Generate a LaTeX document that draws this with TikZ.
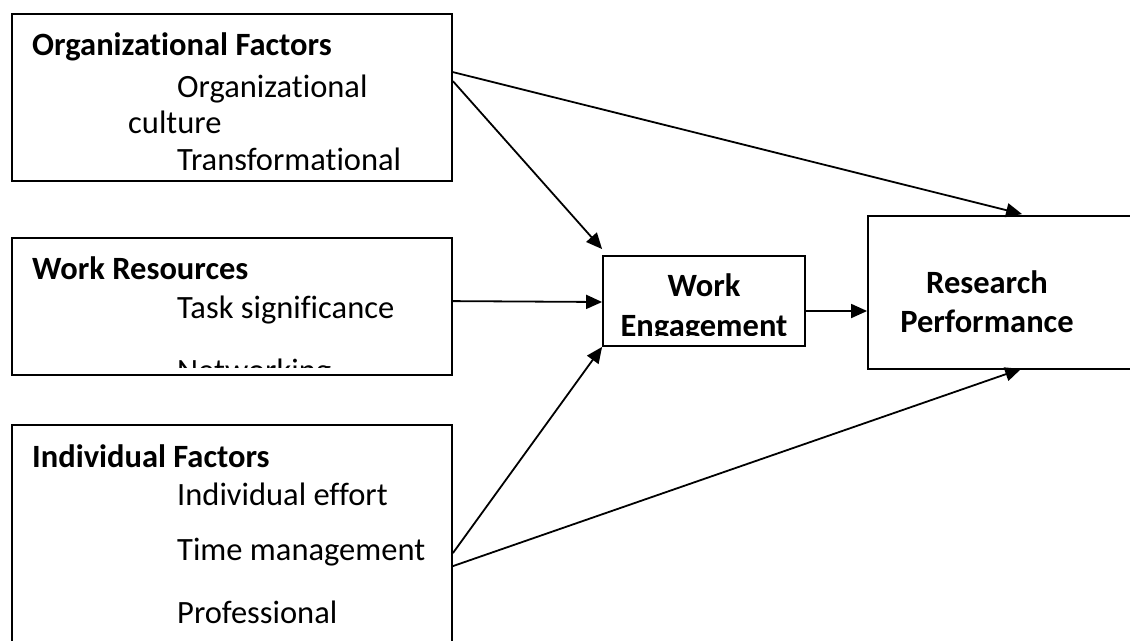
\documentclass[tikz,border=0pt]{standalone}
\usepackage{fontspec}
\setmainfont{Carlito}[RawFeature={-liga;-clig;-calt;-dlig}]
\usetikzlibrary{arrows.meta,positioning,calc}

\begin{document}
\begin{tikzpicture}[
  x=1pt, y=-1pt,
  font=\fontsize{32.5}{39}\selectfont,
  box/.style={draw, line width=1.8pt, inner sep=0pt},
  txt/.style={anchor=base west, inner sep=0pt},
  hd/.style={anchor=base west, inner sep=0pt, font=\fontsize{32.5}{39}\selectfont\bfseries},
  ctr/.style={anchor=base, inner sep=0pt, font=\fontsize{32.5}{39}\selectfont\bfseries},
  arr/.style={-{Triangle[length=16pt,width=14pt]}, line width=1.8pt}
]
\useasboundingbox (0,0) rectangle (1130,640);
\clip (0,0) rectangle (1130,640);

% Boxes
\node[box, minimum width=440pt, minimum height=167pt] (org) at (232,97.5) {};
\node[box, minimum width=440pt, minimum height=137pt] (wr) at (232,306.5) {};
\node[box, minimum width=440pt, minimum height=235pt] (indiv) at (232,542.5) {};
\node[box, minimum width=202pt, minimum height=90pt] (we) at (704,301) {};
\node[box, minimum width=292pt, minimum height=153pt] (rp) at (1014,292.5) {};

% Box texts (cut off at the box margins)
\begin{scope}
  \clip (12,14) rectangle (452,169);
  \node[hd] (orgT) at (32,55) {Organizational Factors};
  \node[txt] (org1) at (177,97) {Organizational};
  \node[txt] (org2) at (128,133) {culture};
  \node[txt] (org3) at (177,170) {Transformational};
\end{scope}
\begin{scope}
  \clip (12,238) rectangle (452,367);
  \node[hd] (wrT) at (32,279) {Work Resources};
  \node[txt] (wr1) at (177,318) {Task significance};
  \node[txt] (wr2) at (177,381) {Networking};
\end{scope}
\begin{scope}
  \clip (12,425) rectangle (452,640);
  \node[hd] (indivT) at (32,467) {Individual Factors};
  \node[txt] (indiv1) at (177,505) {Individual effort};
  \node[txt] (indiv2) at (177,560) {Time management};
  \node[txt] (indiv3) at (177,623) {Professional};
\end{scope}
\begin{scope}
  \clip (603,256) rectangle (805,335);
  \node[ctr] (weA) at (704,296) {Work};
  \node[ctr] (weB) at (704,336) {Engagement};
\end{scope}
\node[ctr] (rpA) at (987,293) {Research};
\node[ctr] (rpB) at (987,332) {Performance};

% Connections
\draw[arr] ([yshift=-68pt]org.north east) -- ([yshift=6pt]we.north west);
\draw[arr] ([yshift=-59pt]org.north east) -- ([xshift=155pt,yshift=1pt]rp.north west);
\draw[arr] ([yshift=-64pt]wr.north east) -- ([yshift=-1pt]we.west);
\draw[arr] ([yshift=-129pt]indiv.north east) -- (we.south west);
\draw[arr] ([yshift=-142pt]indiv.north east) -- ([xshift=154pt,yshift=1pt]rp.south west);
\draw[arr] ([yshift=-10pt]we.east) -- ([yshift=-10pt]we.east -| rp.west);

\end{tikzpicture}
\end{document}
